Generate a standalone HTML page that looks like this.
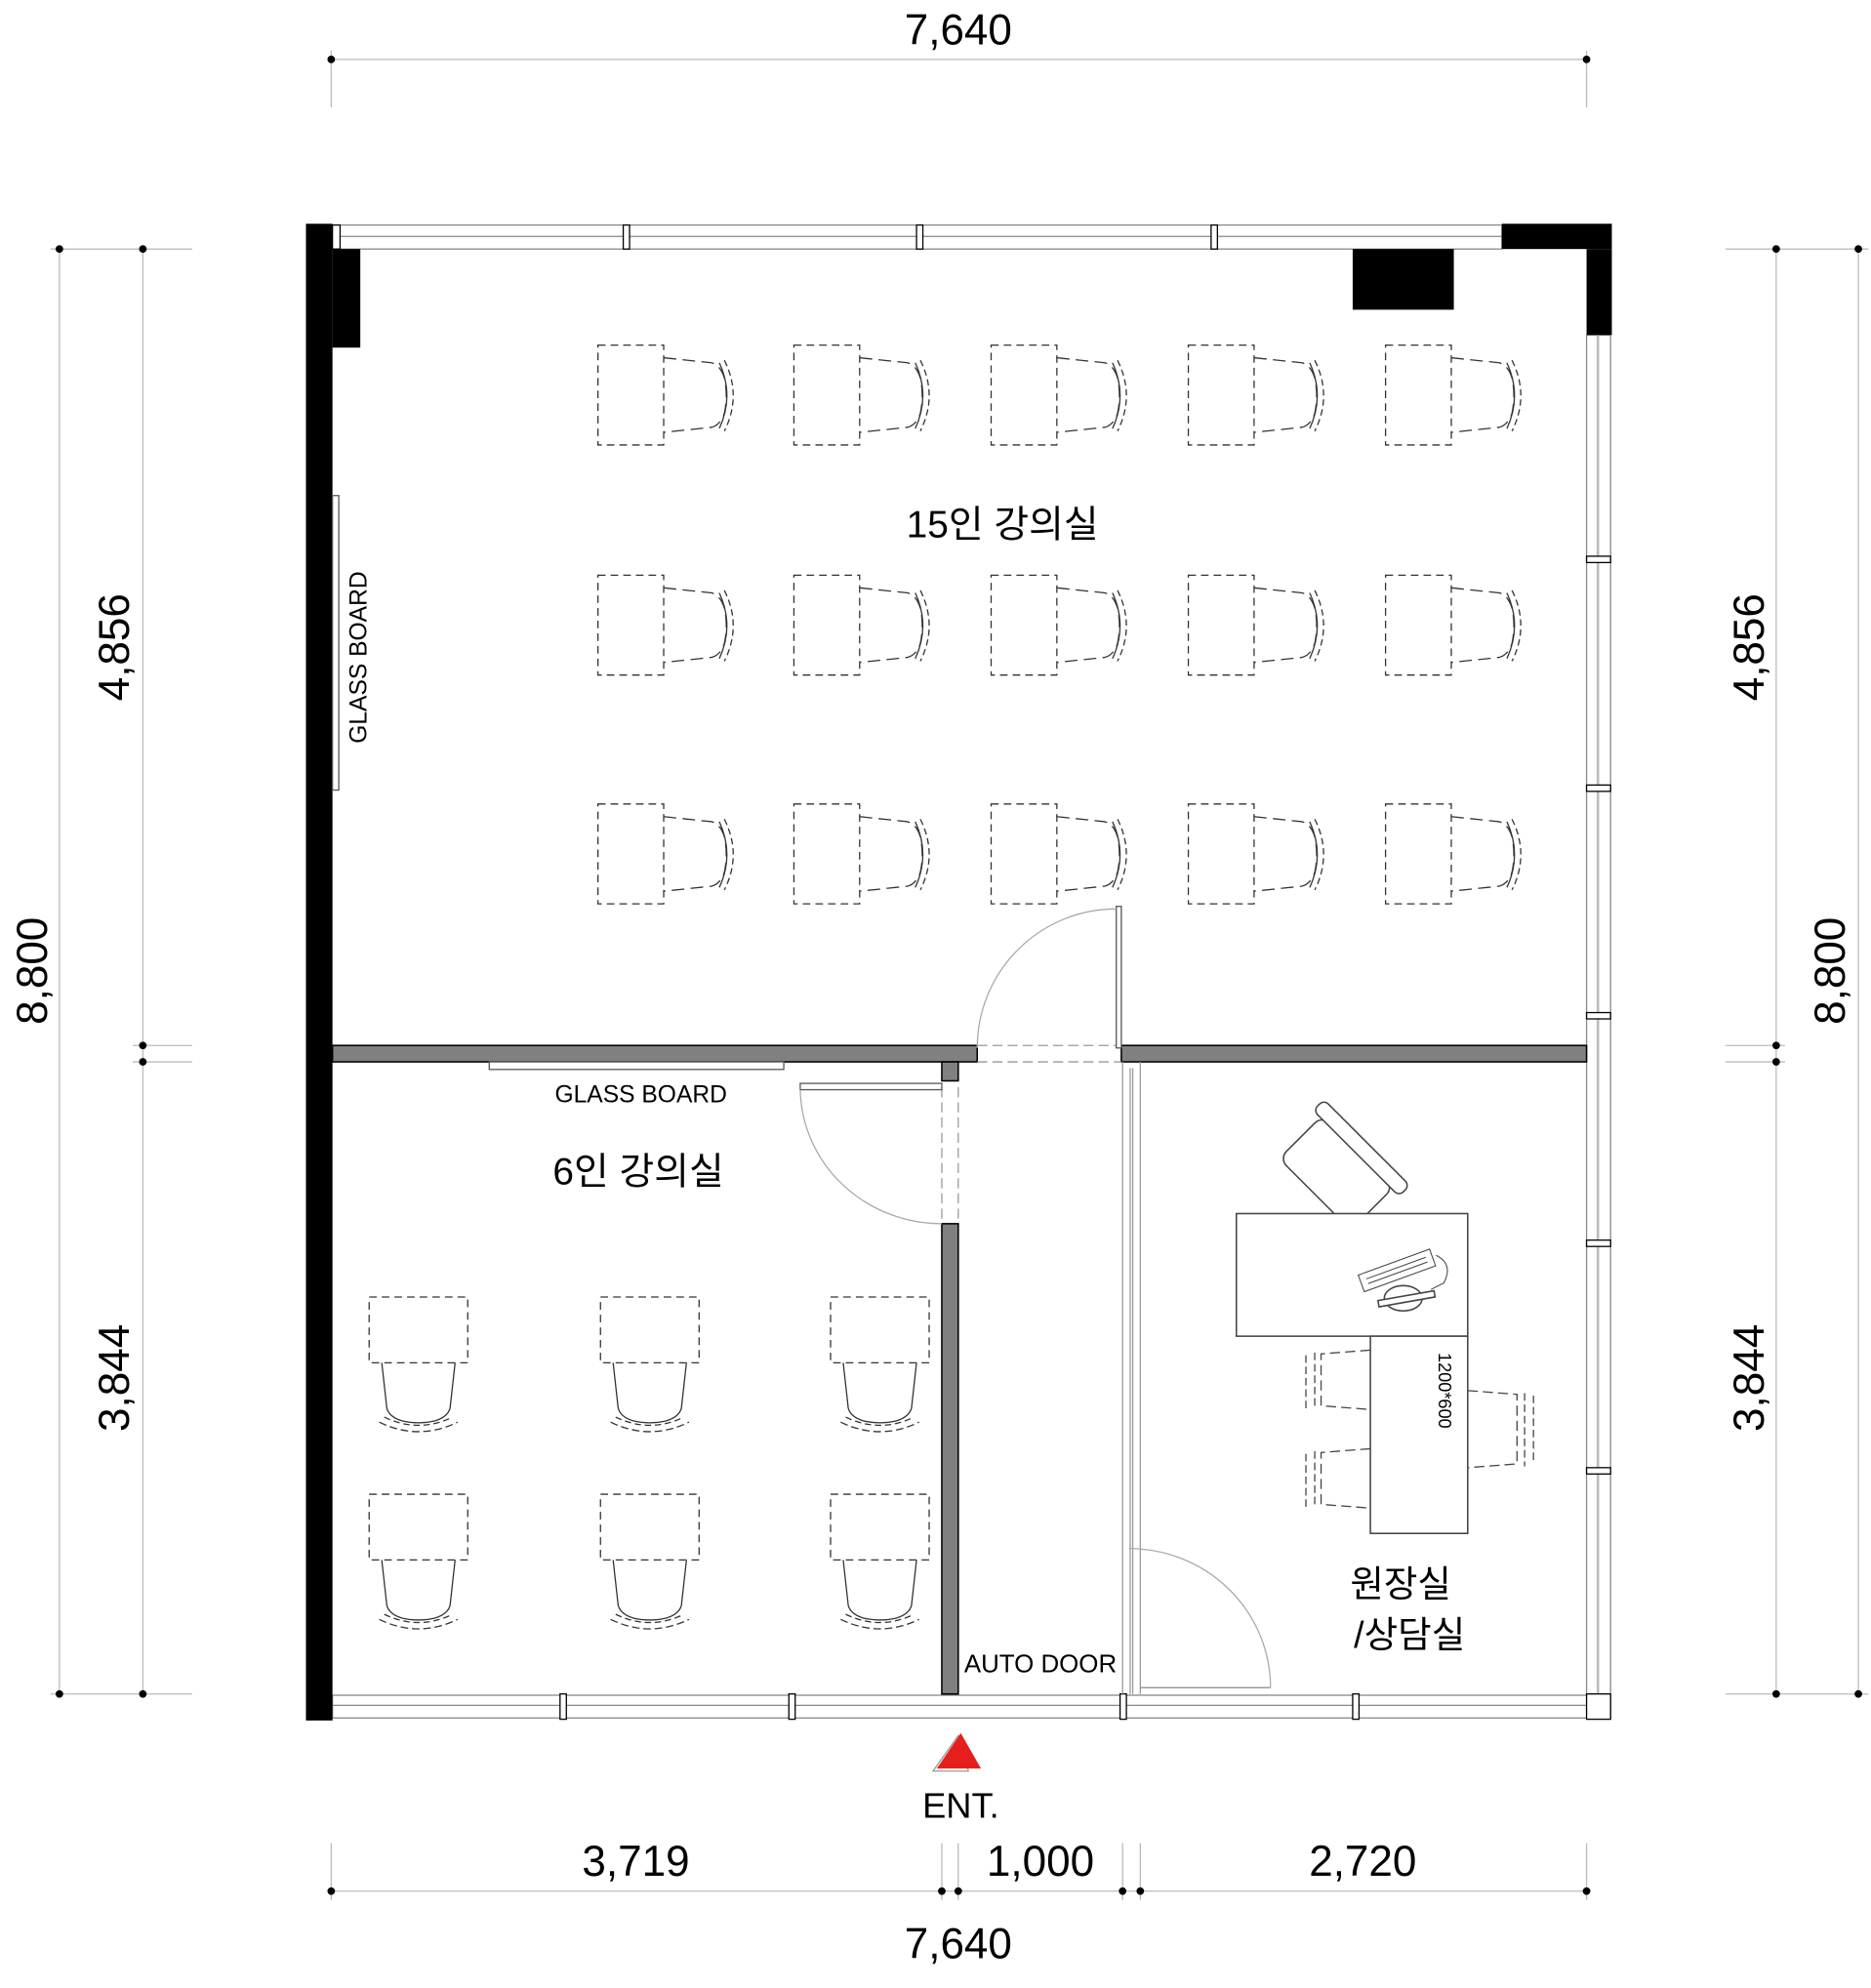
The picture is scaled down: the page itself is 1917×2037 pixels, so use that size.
<!DOCTYPE html>
<html><head><meta charset="utf-8"><style>
html,body{margin:0;padding:0;background:#fff;}
svg{display:block;}
text{font-family:"Liberation Sans","Noto Sans CJK KR",sans-serif;fill:#000;}
</style></head><body>
<svg width="1917" height="2037" viewBox="0 0 1480 1572.6" preserveAspectRatio="none" xmlns="http://www.w3.org/2000/svg">
<defs>
<g id="c15" fill="none" stroke="#333" stroke-width="1">
  <rect x="0" y="0" width="52" height="79" stroke-dasharray="6,4"/>
  <path d="M52 10 L90 14 Q97 16 100 26 Q103 40 100 54 Q97 63 90 65 L52 69" stroke-dasharray="10,5"/>
  <path d="M96 14 Q108 40 96 66" />
  <path d="M100 12 Q114 40 100 68" stroke-dasharray="5,3"/>
</g>
<g id="c6" fill="none" stroke="#333" stroke-width="1">
  <rect x="0" y="0" width="78" height="52" stroke-dasharray="6,4"/>
  <path d="M10 52 L14 88 Q16 95 26 98 Q39 101 52 98 Q62 95 64 88 L68 52" />
  <path d="M12 95 Q39 108 66 95" stroke-dasharray="5,3"/>
  <path d="M8 99 Q39 114 70 99" stroke-dasharray="6,3"/>
</g>
</defs>
<g stroke="#bbb" stroke-width="1" fill="none">
<!-- top dim -->
<line x1="262" y1="47" x2="1255" y2="47"/>
<line x1="262" y1="40" x2="262" y2="85"/><line x1="1255" y1="40" x2="1255" y2="85"/>
<!-- left dims -->
<line x1="47" y1="197" x2="47" y2="1340"/><line x1="113" y1="197" x2="113" y2="1340"/>
<line x1="40" y1="197" x2="152" y2="197"/><line x1="105" y1="827" x2="152" y2="827"/><line x1="105" y1="840" x2="152" y2="840"/><line x1="40" y1="1340" x2="152" y2="1340"/>
<!-- right dims -->
<line x1="1405" y1="197" x2="1405" y2="1340"/><line x1="1470" y1="197" x2="1470" y2="1340"/>
<line x1="1365" y1="197" x2="1478" y2="197"/><line x1="1365" y1="827" x2="1412" y2="827"/><line x1="1365" y1="840" x2="1412" y2="840"/><line x1="1365" y1="1340" x2="1478" y2="1340"/>
<!-- bottom dims -->
<line x1="262" y1="1496" x2="1255" y2="1496"/>
<line x1="262" y1="1458" x2="262" y2="1503"/><line x1="745" y1="1458" x2="745" y2="1503"/><line x1="758" y1="1458" x2="758" y2="1503"/><line x1="888" y1="1458" x2="888" y2="1503"/><line x1="902" y1="1458" x2="902" y2="1503"/><line x1="1255" y1="1458" x2="1255" y2="1503"/>
</g>
<g fill="#000">
<circle cx="262" cy="47" r="3"/><circle cx="1255" cy="47" r="3"/>
<circle cx="47" cy="197" r="3"/><circle cx="47" cy="1340" r="3"/>
<circle cx="113" cy="197" r="3"/><circle cx="113" cy="827" r="3"/><circle cx="113" cy="840" r="3"/><circle cx="113" cy="1340" r="3"/>
<circle cx="1470" cy="197" r="3"/><circle cx="1470" cy="1340" r="3"/>
<circle cx="1405" cy="197" r="3"/><circle cx="1405" cy="827" r="3"/><circle cx="1405" cy="840" r="3"/><circle cx="1405" cy="1340" r="3"/>
<circle cx="262" cy="1496" r="3"/><circle cx="745" cy="1496" r="3"/><circle cx="758" cy="1496" r="3"/><circle cx="888" cy="1496" r="3"/><circle cx="902" cy="1496" r="3"/><circle cx="1255" cy="1496" r="3"/>
</g>
<!-- windows -->
<g fill="#fff" stroke="#888" stroke-width="1">
<rect x="263" y="178" width="925" height="19"/>
<line x1="263" y1="187" x2="1188" y2="187"/>
<rect x="1255" y="265" width="19" height="1075"/>
<line x1="1264" y1="265" x2="1264" y2="1340" stroke="#bbb" stroke-width="2"/>
<rect x="263" y="1341" width="1011" height="18"/>
<line x1="263" y1="1349" x2="1274" y2="1349"/>
</g>
<g fill="#fff" stroke="#000" stroke-width="1">
<rect x="263" y="178" width="6" height="19"/><rect x="493" y="178" width="5" height="19"/><rect x="725" y="178" width="5" height="19"/><rect x="958" y="178" width="5" height="19"/>
<rect x="1255" y="440" width="19" height="5"/><rect x="1255" y="621" width="19" height="5"/><rect x="1255" y="801" width="19" height="5"/><rect x="1255" y="981" width="19" height="5"/><rect x="1255" y="1161" width="19" height="5"/>
<rect x="443" y="1340" width="5" height="20"/><rect x="624" y="1340" width="5" height="20"/><rect x="886" y="1340" width="5" height="20"/><rect x="1070" y="1340" width="5" height="20"/><rect x="1255" y="1340" width="19" height="20"/>
</g>
<!-- black walls -->
<g fill="#000">
<rect x="242" y="177" width="21" height="1184"/>
<rect x="263" y="197" width="22" height="78"/>
<rect x="1188" y="177" width="87" height="20"/>
<rect x="1255" y="197" width="20" height="68"/>
<rect x="1070" y="197" width="80" height="48"/>
</g>
<!-- grey partitions -->
<g fill="#808080" stroke="#000" stroke-width="1.2">
<rect x="263" y="827" width="510" height="13"/>
<rect x="887" y="827" width="368" height="13"/>
<rect x="745" y="840" width="13" height="15"/>
<rect x="745" y="968" width="13" height="372"/>
</g>
<!-- glass partition -->
<g stroke="#999" stroke-width="1" fill="none">
<line x1="888" y1="840" x2="888" y2="1340"/><line x1="902" y1="840" x2="902" y2="1340"/><line x1="894" y1="845" x2="894" y2="1340"/><line x1="896" y1="845" x2="896" y2="1340"/>
<line x1="773" y1="827" x2="887" y2="827" stroke-dasharray="8,4"/><line x1="773" y1="840" x2="887" y2="840" stroke-dasharray="8,4"/>
<line x1="745" y1="860" x2="745" y2="968" stroke-dasharray="8,4"/><line x1="758" y1="860" x2="758" y2="968" stroke-dasharray="8,4"/>
<line x1="902" y1="1335" x2="1005" y2="1335" stroke="#888"/>
</g>
<!-- glass boards -->
<g fill="#fff" stroke="#555" stroke-width="1">
<rect x="263" y="392" width="5" height="233"/>
<rect x="387" y="840" width="233" height="6"/>
<rect x="633" y="857" width="112" height="5"/>
<rect x="883" y="717" width="4" height="112"/>
</g>
<!-- door arcs -->
<g fill="none" stroke="#aaa" stroke-width="1">
<path d="M883 719 A110 110 0 0 0 773 829"/>
<path d="M633 862 A112 108 0 0 0 745 968"/>
<path d="M893 1225 A112 110 0 0 1 1005 1335"/>
</g>
<!-- 15 room desks -->
<use href="#c15" x="473" y="273"/><use href="#c15" x="628" y="273"/><use href="#c15" x="784" y="273"/><use href="#c15" x="940" y="273"/><use href="#c15" x="1096" y="273"/>
<use href="#c15" x="473" y="455"/><use href="#c15" x="628" y="455"/><use href="#c15" x="784" y="455"/><use href="#c15" x="940" y="455"/><use href="#c15" x="1096" y="455"/>
<use href="#c15" x="473" y="636"/><use href="#c15" x="628" y="636"/><use href="#c15" x="784" y="636"/><use href="#c15" x="940" y="636"/><use href="#c15" x="1096" y="636"/>
<!-- 6 room desks -->
<use href="#c6" x="292" y="1026"/><use href="#c6" x="475" y="1026"/><use href="#c6" x="657" y="1026"/>
<use href="#c6" x="292" y="1182"/><use href="#c6" x="475" y="1182"/><use href="#c6" x="657" y="1182"/>
<!-- office -->
<g fill="#fff" stroke="#444" stroke-width="1.2">
<g transform="rotate(45 1060 925)">
<rect x="1020" y="905" width="80" height="48" rx="8"/>
<rect x="1012" y="895" width="96" height="12" rx="5"/>
</g>
<rect x="978" y="960" width="183" height="97"/>
<rect x="1084" y="1057" width="77" height="156"/>
<g transform="rotate(-20 1105 1005)" stroke-width="0.8">
<rect x="1075" y="998" width="60" height="14"/>
<line x1="1080" y1="1003" x2="1130" y2="1003"/>
<line x1="1080" y1="1007" x2="1130" y2="1007"/>
</g>
<ellipse cx="1110" cy="1027" rx="15" ry="10"/>
<rect x="1090" y="1025" width="45" height="5" transform="rotate(-10 1112 1027)"/>
<path d="M1136 993 Q1150 1000 1142 1015 L1132 1020" fill="none" stroke-width="0.8"/>
</g>
<g fill="none" stroke="#444" stroke-width="1">
<path d="M1084 1068 L1045 1071 L1045 1112 L1084 1115" stroke-dasharray="8,4"/>
<path d="M1040 1070 L1040 1115 M1033 1072 L1033 1114" stroke-dasharray="6,3"/>
<path d="M1084 1146 L1045 1149 L1045 1190 L1084 1193" stroke-dasharray="8,4"/>
<path d="M1040 1148 L1040 1193 M1033 1150 L1033 1192" stroke-dasharray="6,3"/>
<path d="M1161 1100 L1200 1103 L1200 1158 L1161 1161" stroke-dasharray="8,4"/>
<path d="M1206 1102 L1206 1160 M1213 1104 L1213 1158" stroke-dasharray="6,3"/>
</g>
<!-- entrance -->
<polygon points="738,1401 758,1373 766,1401" fill="none" stroke="#999" stroke-width="1"/>
<polygon points="741,1399 760,1371 776,1399" fill="#e5201c"/>
<!-- labels -->
<text x="758" y="35" font-size="34" text-anchor="middle">7,640</text>
<text x="758" y="1549" font-size="34" text-anchor="middle">7,640</text>
<text x="503" y="1484" font-size="34" text-anchor="middle">3,719</text>
<text x="823" y="1484" font-size="34" text-anchor="middle">1,000</text>
<text x="1078" y="1484" font-size="34" text-anchor="middle">2,720</text>
<text transform="translate(37 768) rotate(-90)" font-size="34" text-anchor="middle">8,800</text>
<text transform="translate(102 512) rotate(-90)" font-size="34" text-anchor="middle">4,856</text>
<text transform="translate(102 1090) rotate(-90)" font-size="34" text-anchor="middle">3,844</text>
<text transform="translate(1395 512) rotate(-90)" font-size="34" text-anchor="middle">4,856</text>
<text transform="translate(1395 1090) rotate(-90)" font-size="34" text-anchor="middle">3,844</text>
<text transform="translate(1459 768) rotate(-90)" font-size="34" text-anchor="middle">8,800</text>
<text x="793" y="425" font-size="30" text-anchor="middle">15인 강의실</text>
<text x="505" y="937" font-size="30" text-anchor="middle">6인 강의실</text>
<text x="1108" y="1263" font-size="29" text-anchor="middle">원장실</text>
<text x="1115" y="1303" font-size="29" text-anchor="middle">/상담실</text>
<text x="507" y="872" font-size="19" text-anchor="middle">GLASS BOARD</text>
<text transform="translate(290 520) rotate(-90)" font-size="19" text-anchor="middle">GLASS BOARD</text>
<text x="823" y="1323" font-size="20" text-anchor="middle">AUTO DOOR</text>
<text x="760" y="1438" font-size="28" text-anchor="middle">ENT.</text>
<text transform="translate(1138 1100) rotate(90)" font-size="14" text-anchor="middle">1200*600</text>
</svg>
</body></html>
